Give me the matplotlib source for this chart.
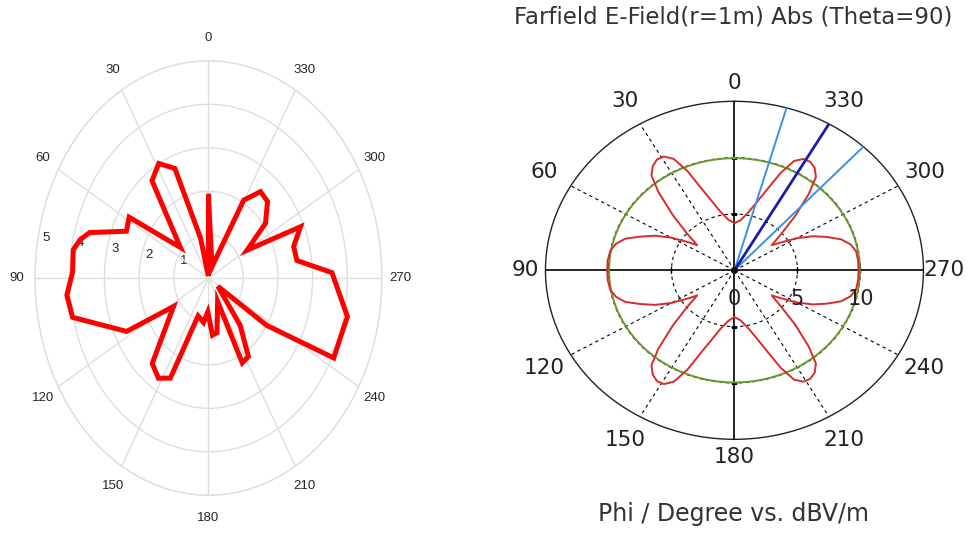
import numpy as np
import matplotlib.pyplot as plt
from matplotlib.transforms import offset_copy

plt.rcParams['font.family'] = ['Liberation Sans', 'DejaVu Sans']

# ---- left panel: measured pattern (phi in degrees, linear magnitude)
left_phi = [0, 6, 14, 21, 28.5, 36, 49, 58.5, 65.5, 73, 76.5, 80.5, 88, 95.5,
            103, 117.5, 123, 140.5, 148, 154.5, 161, 172, 178.5, 185, 191,
            206, 206.5, 212.5, 220, 235, 237, 243, 250, 257.5, 272, 279,
            286.5, 294, 300, 307.5, 316, 323, 330.5, 339, 360]
left_r = [1.88, 0.05, 0.95, 2.7, 3.0, 2.77, 1.07, 2.68, 2.6, 3.58, 3.8, 3.95,
          3.92, 4.1, 4.02, 2.66, 1.2, 2.55, 2.72, 2.55, 0.92, 1.03, 0.78,
          1.32, 1.28, 0.6, 2.18, 2.14, 1.42, 0.33, 2.0, 4.05, 4.04, 4.1,
          3.56, 2.58, 2.56, 2.9, 1.28, 2.07, 2.45, 2.49, 2.06, 0.28, 1.88]
left_angle_ticks = [0, 30, 60, 90, 120, 150, 180, 210, 240, 270, 300, 330]
left_r_ticks = [1, 2, 3, 4, 5]

# ---- right panel: CST farfield cut (phi in degrees, dBV/m)
right_phi = [0, 6, 12, 16, 20, 23, 26, 29, 32, 35, 38, 41, 45, 49, 53, 56, 60,
             64, 68, 72, 76, 80, 85, 90,
             95, 100, 104, 108, 112, 116, 120, 124, 127, 131, 135, 139, 142,
             145, 148, 151, 154, 157, 160, 164, 168, 174,
             180, 186, 192, 196, 200, 203, 206, 209, 212, 215, 218, 221, 225,
             229, 233, 236, 240, 244, 248, 252, 256, 260, 265, 270,
             275, 280, 284, 288, 292, 296, 300, 304, 307, 311, 315, 319, 322,
             325, 328, 331, 334, 337, 340, 344, 348, 354, 360]
right_r = [4.2, 4.5, 5.3, 6.3, 7.8, 9.6, 11.0, 11.55, 11.6, 11.3, 10.7, 9.2,
           6.9, 5.0, 3.7, 4.5, 5.8, 7.0, 8.0, 9.1, 9.7, 10.0, 10.1, 10.1,
           10.1, 10.0, 9.7, 9.1, 8.0, 7.0, 5.8, 4.5, 3.7, 5.0, 6.9, 9.2, 10.7,
           11.3, 11.6, 11.55, 11.0, 9.6, 7.8, 6.3, 5.3, 4.5,
           4.15, 4.45, 5.25, 6.2, 7.7, 9.4, 10.8, 11.3, 11.35, 11.1, 10.5, 9.0,
           6.8, 4.9, 3.7, 4.4, 5.7, 6.9, 7.9, 8.9, 9.5, 9.8, 9.85, 9.85,
           9.85, 9.8, 9.5, 8.9, 7.9, 6.9, 5.7, 4.4, 3.7, 4.9, 6.8, 9.0, 10.5,
           11.1, 11.35, 11.3, 10.8, 9.4, 7.7, 6.2, 5.25, 4.45, 4.2]
ref_level = 9.95                 # green reference circle
main_lobe_phi = 330              # dark blue marker
beam_edge_phi = [344, 317]       # light blue 3 dB lines
right_angle_ticks = [0, 30, 60, 90, 120, 150, 180, 210, 240, 270, 300, 330]
right_axes_phi = [0, 90, 180, 270]   # solid cross, the rest is dashed
right_r_ticks = [0, 5, 10]
r_max = 15

fig = plt.figure(figsize=(9.77, 5.45), dpi=100)
fig.patch.set_facecolor('white')

# ---------------- left polar plot ----------------
ax1 = fig.add_axes([0.0358, 0.0912, 0.3552, 0.7972], projection='polar')
ax1.set_aspect('auto')
ax1.set_theta_zero_location('N')
ax1.set_theta_direction(1)
ax1.set_ylim(0, 5)
ax1.set_thetagrids(left_angle_ticks, labels=[])
ax1.set_rgrids(left_r_ticks, labels=[])
ax1.grid(True, color='#dedede', linewidth=1.0)
ax1.spines['polar'].set_color('#dedede')
ax1.spines['polar'].set_linewidth(1.0)
ax1.tick_params(length=0)

for a in left_angle_ticks:
    ax1.text(np.deg2rad(a), 5.52, str(a), ha='center', va='center',
             fontsize=9.5, color='#262626', clip_on=False)
rlabel_tr = offset_copy(ax1.transData, fig=fig, x=6.8, y=8.2, units='points')
for rv in left_r_ticks:
    ax1.text(np.deg2rad(82.3), rv, str(rv), ha='center', va='center',
             fontsize=9.5, color='#262626', transform=rlabel_tr, zorder=1)

ax1.plot(np.deg2rad(left_phi), left_r, color='#ff0000', linewidth=3.6,
         solid_joinstyle='miter', zorder=5)

# ---------------- right polar plot (CST style) ----------------
ax2 = fig.add_axes([0.5583, 0.1939, 0.3869, 0.6202], projection='polar')
ax2.set_aspect('auto')
ax2.set_theta_zero_location('N')
ax2.set_theta_direction(1)
ax2.set_ylim(0, r_max)
ax2.set_thetagrids([a for a in right_angle_ticks if a not in right_axes_phi],
                   labels=[])
ax2.set_rgrids([5, 10], labels=[])
ax2.grid(True, color='black', linewidth=0.8, linestyle=(0, (3, 3)))
ax2.spines['polar'].set_color('#222222')
ax2.spines['polar'].set_linewidth(1.0)
ax2.tick_params(length=0)

for a in right_axes_phi:
    ax2.plot(np.deg2rad([a, a]), [0, r_max], color='black', linewidth=1.2, zorder=3)
for rv in right_r_ticks[1:]:
    ax2.plot(np.deg2rad([90, 270]), [rv, rv], linestyle='none', marker='|',
             markersize=4, markeredgewidth=1, color='black', zorder=3)
    ax2.plot(np.deg2rad([0, 180]), [rv, rv], linestyle='none', marker='_',
             markersize=4, markeredgewidth=1, color='black', zorder=3)

circle_phi = np.deg2rad(np.arange(0, 361, 2))
ax2.plot(circle_phi, np.full(circle_phi.shape, ref_level), color='#6b9a2c',
         linewidth=1.4, zorder=4)
ax2.plot(np.deg2rad(right_phi), right_r, color='#d92b2b', linewidth=1.4, zorder=5)
for a in beam_edge_phi:
    ax2.plot(np.deg2rad([a, a]), [0, r_max], color='#3a90e8', linewidth=1.4, zorder=6)
ax2.plot(np.deg2rad([main_lobe_phi, main_lobe_phi]), [0, r_max], color='#1c1ca8',
         linewidth=2.0, zorder=7)
ax2.plot([0], [0], marker='o', markersize=4, color='#111111', zorder=8)

for a in right_angle_ticks:
    lab_r = 16.6 if a in right_axes_phi else 17.4
    ax2.text(np.deg2rad(a), lab_r, str(a), ha='center', va='center',
             fontsize=15.5, family='DejaVu Sans', color='#222222', clip_on=False)
rtick_tr = offset_copy(ax2.transData, fig=fig, x=0, y=-20.5, units='points')
for rv in right_r_ticks:
    ax2.text(np.deg2rad(270), rv, str(rv), ha='center', va='center',
             fontsize=15, family='DejaVu Sans', color='#222222',
             transform=rtick_tr, zorder=9)

fig.text(0.7503, 0.969, 'Farfield E-Field(r=1m) Abs (Theta=90)', ha='center',
         va='center', fontsize=16.5, family='DejaVu Sans', color='#333333')
fig.text(0.7503, 0.0565, 'Phi / Degree vs. dBV/m', ha='center', va='center',
         fontsize=17, family='DejaVu Sans', color='#333333')

fig.savefig('out.png', dpi=100, facecolor='white')
